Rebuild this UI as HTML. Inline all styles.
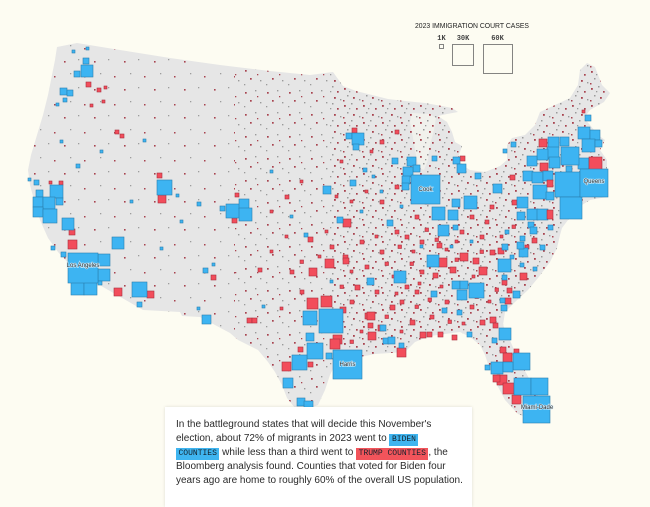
<!DOCTYPE html>
<html><head><meta charset="utf-8">
<style>
html,body{margin:0;padding:0;}
body{width:650px;height:495px;overflow:hidden;background:#fdfcf2;position:relative;font-family:"Liberation Sans",Arial,sans-serif;}
svg{position:absolute;left:0;top:0;}
.b{fill:#3db4f2;stroke:#2a7fae;stroke-width:.6}
.r{fill:#f24d5b;stroke:#a8303e;stroke-width:.6}
.lab{font-family:"Liberation Sans",sans-serif;font-size:6px;fill:#333;stroke:#dff1fb;stroke-width:1.4px;paint-order:stroke;stroke-opacity:.8}
#box{position:absolute;left:165px;top:407px;width:307px;height:100px;background:#fff;box-shadow:0 0 3px rgba(0,0,0,.13);}
#txt{position:absolute;left:176px;top:418px;font-size:10px;line-height:14px;color:#2a2a2a;white-space:nowrap;}
.hb,.hr{display:inline-block;font-family:"Liberation Mono",monospace;font-size:8px;line-height:12px;padding:0 2.5px;color:#14222c;}
.hb{background:#3fb5f0;}
.hr{background:#f2545b;}
</style></head><body>
<svg width="650" height="495" viewBox="0 0 650 495" xmlns="http://www.w3.org/2000/svg">
<defs>
<clipPath id="us"><path id="usp" d="M57,47 L77,43 L120,50 L170,58 L220,65 L270,71 L310,75 L333,72 L338,79 L343,86 L356,91 L372,95 L388,99 L405,101 L425,103 L442,106 L452,108 L458,112 L447,114 L438,116 L447,122 L452,132 L455,142 L462,146 L458,158 L462,165 L470,170 L485,172 L500,166 L507,160 L507,145 L512,138 L525,135 L535,125 L540,112 L555,105 L570,98 L578,85 L580,70 L587,63 L595,67 L602,85 L610,93 L604,102 L590,110 L584,118 L590,125 L598,135 L605,140 L600,150 L607,160 L607,197 L590,200 L582,205 L575,212 L568,220 L562,228 L560,235 L557,248 L550,262 L538,278 L528,290 L515,302 L505,312 L503,325 L512,345 L520,362 L530,380 L538,395 L535,410 L528,418 L518,414 L505,400 L497,385 L490,370 L485,355 L480,345 L470,337 L460,332 L445,334 L430,336 L415,342 L405,352 L390,353 L375,354 L360,357 L345,360 L335,365 L330,375 L325,390 L318,405 L305,410 L295,408 L287,398 L282,385 L275,372 L268,362 L258,350 L248,345 L238,340 L230,333 L215,325 L200,317 L182,316 L180,312 L143,310 L103,287 L98,284 L85,276 L70,265 L58,252 L48,238 L40,220 L34,200 L30,185 L28,170 L31,155 L37,135 L43,115 L48,95 L52,75 L55,60 Z"/></clipPath>
<pattern id="pw" width="30" height="28" patternUnits="userSpaceOnUse">
<rect x="4" y="5" width="1.6" height="1.6" fill="#a8434f"/><rect x="18" y="3" width="1.3" height="1.3" fill="#9d9d9d"/><rect x="10" y="17" width="1.3" height="1.3" fill="#9d9d9d"/><rect x="24" y="20" width="1.5" height="1.5" fill="#a8434f"/>
</pattern>
<pattern id="pp" width="22" height="22" patternUnits="userSpaceOnUse">
<rect x="3" y="4" width="1.7" height="1.7" fill="#a8434f"/><rect x="13" y="2" width="1.4" height="1.4" fill="#9a9a9a"/><rect x="8" y="12" width="1.7" height="1.7" fill="#a8434f"/><rect x="18" y="14" width="1.4" height="1.4" fill="#9a9a9a"/><rect x="2" y="18" width="1.3" height="1.3" fill="#9a9a9a"/><rect x="15" y="8" width="1.3" height="1.3" fill="#a8434f"/>
</pattern>
<pattern id="pe" width="19" height="17" patternUnits="userSpaceOnUse">
<rect x="2" y="3" width="1.8" height="1.8" fill="#a8434f"/><rect x="9" y="1" width="1.5" height="1.5" fill="#9a9a9a"/><rect x="14" y="6" width="1.7" height="1.7" fill="#a8434f"/><rect x="5" y="10" width="1.5" height="1.5" fill="#9a9a9a"/><rect x="11" y="12" width="1.8" height="1.8" fill="#a8434f"/><rect x="17" y="14" width="1.4" height="1.4" fill="#9a9a9a"/><rect x="1" y="15" width="1.5" height="1.5" fill="#a8434f"/><rect x="7" y="6" width="1.3" height="1.3" fill="#9a9a9a"/>
</pattern>
</defs>
<use href="#usp" fill="#e6e6e6"/>
<path d="M412,113 L430,114 L436,118 L434,130 L430,145 L428,160 L424,170 L419,168 L416,155 L413,138 L410,122 Z" fill="#f1f1ec"/>
<g clip-path="url(#us)">
<rect x="0" y="0" width="235" height="495" fill="url(#pw)"/>
<rect x="235" y="0" width="95" height="495" fill="url(#pp)"/>
<rect x="330" y="0" width="320" height="495" fill="url(#pe)"/>
</g>
<!-- legend -->
<text x="415" y="28" font-family="Liberation Sans,sans-serif" font-size="7.5" fill="#222" textLength="114" lengthAdjust="spacingAndGlyphs">2023 IMMIGRATION COURT CASES</text>
<g font-family="Liberation Mono,monospace" font-size="7" font-weight="bold" fill="#444" text-anchor="middle">
<text x="441.5" y="40">1K</text><text x="463" y="40">30K</text><text x="497.5" y="40">60K</text>
</g>
<g fill="none" stroke="#666" stroke-width="0.8">
<rect x="439.5" y="44.5" width="4" height="4"/><rect x="452.5" y="44.5" width="21" height="21"/><rect x="483.5" y="44.5" width="29" height="29"/>
</g>
<!-- small scattered -->
<g>
<rect class="b" x="380" y="190" width="3" height="3"/><rect class="b" x="400" y="205" width="3" height="3"/><rect class="b" x="360" y="210" width="3" height="3"/><rect class="b" x="420" y="245" width="3" height="3"/><rect class="b" x="450" y="245" width="3" height="3"/><rect class="b" x="470" y="240" width="3" height="3"/><rect class="b" x="330" y="280" width="3" height="3"/><rect class="b" x="290" y="215" width="3" height="3"/><rect class="b" x="270" y="170" width="3" height="3"/><rect class="b" x="100" y="150" width="3" height="3"/><rect class="b" x="60" y="140" width="3" height="3"/><rect class="b" x="130" y="200" width="3" height="3"/><rect class="b" x="180" y="220" width="3" height="3"/>
<rect class="b" x="56" y="103" width="3" height="3"/><rect class="b" x="72" y="50" width="3" height="3"/><rect class="b" x="86" y="47" width="3" height="3"/><rect class="b" x="76" y="164" width="4" height="4"/><rect class="b" x="143" y="139" width="3" height="3"/><rect class="b" x="176" y="194" width="3" height="3"/><rect class="b" x="28" y="178" width="3" height="3"/><rect class="b" x="197" y="307" width="3" height="3"/><rect class="b" x="160" y="247" width="3" height="3"/><rect class="b" x="212" y="263" width="3" height="3"/><rect class="b" x="262" y="305" width="3" height="3"/><rect class="b" x="304" y="233" width="4" height="4"/>
</g>
<!-- extra small reds -->
<g>
<rect class="r" x="385" y="262" width="3.5" height="3.5"/><rect class="r" x="392" y="275" width="3" height="3"/><rect class="r" x="410" y="262" width="3.5" height="3.5"/><rect class="r" x="418" y="282" width="3" height="3"/><rect class="r" x="428" y="298" width="3.5" height="3.5"/><rect class="r" x="440" y="285" width="3" height="3"/><rect class="r" x="448" y="320" width="3.5" height="3.5"/><rect class="r" x="462" y="322" width="3" height="3"/><rect class="r" x="475" y="295" width="3.5" height="3.5"/><rect class="r" x="488" y="300" width="3" height="3"/><rect class="r" x="495" y="288" width="3.5" height="3.5"/><rect class="r" x="472" y="275" width="3" height="3"/><rect class="r" x="455" y="258" width="3.5" height="3.5"/><rect class="r" x="445" y="248" width="3" height="3"/><rect class="r" x="425" y="228" width="3.5" height="3.5"/><rect class="r" x="412" y="250" width="3" height="3"/><rect class="r" x="398" y="245" width="3.5" height="3.5"/><rect class="r" x="375" y="235" width="3" height="3"/><rect class="r" x="385" y="315" width="3.5" height="3.5"/><rect class="r" x="400" y="330" width="3" height="3"/><rect class="r" x="415" y="305" width="3.5" height="3.5"/><rect class="r" x="360" y="330" width="3" height="3"/><rect class="r" x="350" y="340" width="3.5" height="3.5"/><rect class="r" x="395" y="292" width="3" height="3"/><rect class="r" x="480" y="250" width="3.5" height="3.5"/><rect class="r" x="500" y="235" width="3" height="3"/><rect class="r" x="512" y="225" width="3.5" height="3.5"/><rect class="r" x="455" y="240" width="3" height="3"/><rect class="r" x="435" y="238" width="3.5" height="3.5"/><rect class="r" x="350" y="270" width="3" height="3"/><rect class="r" x="340" y="285" width="3.5" height="3.5"/><rect class="r" x="318" y="255" width="3" height="3"/><rect class="r" x="300" y="260" width="3.5" height="3.5"/><rect class="r" x="285" y="235" width="3" height="3"/><rect class="r" x="325" y="230" width="3" height="3"/><rect class="r" x="335" y="195" width="3" height="3"/><rect class="r" x="350" y="200" width="3" height="3"/><rect class="r" x="365" y="190" width="3" height="3"/>
</g>
<!-- reds -->
<g>
<rect class="r" x="86" y="82" width="5" height="5"/><rect class="r" x="97" y="88" width="4" height="4"/><rect class="r" x="104" y="86" width="3" height="3"/><rect class="r" x="102" y="100" width="3" height="3"/><rect class="r" x="90" y="104" width="3" height="3"/><rect class="r" x="115" y="130" width="4" height="4"/><rect class="r" x="120" y="134" width="4" height="4"/><rect class="r" x="59" y="181" width="4" height="4"/><rect class="r" x="49" y="181" width="3" height="3"/><rect class="r" x="69" y="229" width="6" height="6"/><rect class="r" x="68" y="240" width="9" height="9"/><rect class="r" x="114" y="288" width="8" height="8"/><rect class="r" x="147" y="291" width="7" height="7"/><rect class="r" x="211" y="275" width="5" height="5"/><rect class="r" x="247" y="318" width="5" height="5"/><rect class="r" x="252" y="318" width="5" height="5"/><rect class="r" x="158" y="195" width="8" height="8"/><rect class="r" x="157" y="173" width="5" height="5"/><rect class="r" x="232" y="218" width="5" height="5"/><rect class="r" x="235" y="193" width="4" height="4"/>
<rect class="r" x="307" y="298" width="11" height="11"/><rect class="r" x="321" y="296" width="11" height="11"/><rect class="r" x="282" y="362" width="9" height="9"/><rect class="r" x="333" y="335" width="9" height="9"/><rect class="r" x="330" y="339" width="10" height="10"/><rect class="r" x="308" y="237" width="5" height="5"/><rect class="r" x="309" y="268" width="8" height="8"/><rect class="r" x="325" y="259" width="9" height="9"/><rect class="r" x="343" y="219" width="8" height="8"/><rect class="r" x="343" y="255" width="5" height="5"/><rect class="r" x="365" y="313" width="6" height="6"/><rect class="r" x="367" y="312" width="8" height="8"/><rect class="r" x="368" y="323" width="5" height="5"/><rect class="r" x="378" y="325" width="6" height="6"/><rect class="r" x="397" y="348" width="9" height="9"/><rect class="r" x="420" y="332" width="6" height="6"/><rect class="r" x="427" y="332" width="5" height="5"/><rect class="r" x="438" y="332" width="5" height="5"/><rect class="r" x="452" y="335" width="5" height="5"/><rect class="r" x="340" y="307" width="6" height="6"/><rect class="r" x="258" y="268" width="4" height="4"/><rect class="r" x="280" y="307" width="3" height="3"/><rect class="r" x="298" y="347" width="5" height="5"/><rect class="r" x="308" y="362" width="5" height="5"/><rect class="r" x="368" y="332" width="8" height="8"/>
<rect class="r" x="438" y="258" width="9" height="9"/><rect class="r" x="460" y="253" width="8" height="8"/><rect class="r" x="479" y="267" width="8" height="8"/><rect class="r" x="437" y="243" width="5" height="5"/><rect class="r" x="473" y="258" width="6" height="6"/><rect class="r" x="490" y="250" width="5" height="5"/><rect class="r" x="498" y="248" width="6" height="6"/><rect class="r" x="450" y="267" width="6" height="6"/><rect class="r" x="433" y="273" width="5" height="5"/><rect class="r" x="502" y="280" width="5" height="5"/><rect class="r" x="507" y="288" width="5" height="5"/><rect class="r" x="505" y="298" width="6" height="6"/><rect class="r" x="520" y="273" width="7" height="7"/><rect class="r" x="490" y="317" width="6" height="6"/><rect class="r" x="493" y="323" width="5" height="5"/><rect class="r" x="500" y="347" width="6" height="6"/><rect class="r" x="514" y="349" width="5" height="5"/>
<rect class="r" x="352" y="128" width="5" height="5"/><rect class="r" x="343" y="258" width="6" height="6"/><rect class="r" x="375" y="290" width="4" height="4"/><rect class="r" x="400" y="300" width="4" height="4"/><rect class="r" x="415" y="290" width="4" height="4"/><rect class="r" x="360" y="240" width="4" height="4"/><rect class="r" x="380" y="250" width="4" height="4"/><rect class="r" x="395" y="230" width="4" height="4"/><rect class="r" x="420" y="240" width="4" height="4"/><rect class="r" x="445" y="300" width="4" height="4"/><rect class="r" x="470" y="305" width="4" height="4"/><rect class="r" x="480" y="320" width="5" height="5"/><rect class="r" x="410" y="320" width="5" height="5"/><rect class="r" x="430" y="315" width="4" height="4"/><rect class="r" x="350" y="300" width="4" height="4"/><rect class="r" x="355" y="285" width="5" height="5"/><rect class="r" x="300" y="290" width="4" height="4"/><rect class="r" x="290" y="270" width="4" height="4"/><rect class="r" x="270" y="250" width="3" height="3"/><rect class="r" x="390" y="305" width="5" height="5"/><rect class="r" x="405" y="285" width="4" height="4"/><rect class="r" x="420" y="270" width="4" height="4"/><rect class="r" x="365" y="265" width="4" height="4"/><rect class="r" x="330" y="245" width="4" height="4"/><rect class="r" x="285" y="195" width="4" height="4"/><rect class="r" x="270" y="210" width="3" height="3"/><rect class="r" x="380" y="200" width="4" height="4"/><rect class="r" x="395" y="185" width="4" height="4"/><rect class="r" x="380" y="140" width="4" height="4"/><rect class="r" x="395" y="130" width="4" height="4"/><rect class="r" x="370" y="150" width="3" height="3"/><rect class="r" x="340" y="160" width="3" height="3"/><rect class="r" x="300" y="180" width="3" height="3"/><rect class="r" x="510" y="175" width="5" height="5"/><rect class="r" x="512" y="200" width="5" height="5"/><rect class="r" x="532" y="238" width="5" height="5"/><rect class="r" x="525" y="245" width="4" height="4"/><rect class="r" x="480" y="235" width="4" height="4"/><rect class="r" x="460" y="230" width="4" height="4"/><rect class="r" x="470" y="215" width="4" height="4"/><rect class="r" x="490" y="205" width="4" height="4"/><rect class="r" x="485" y="220" width="4" height="4"/><rect class="r" x="415" y="215" width="4" height="4"/><rect class="r" x="405" y="235" width="4" height="4"/><rect class="r" x="425" y="200" width="4" height="4"/><rect class="r" x="460" y="156" width="5" height="5"/><rect class="r" x="582" y="110" width="3" height="3"/>
</g>
<!-- blues -->
<g>
<rect class="b" x="81" y="65" width="12" height="12"/><rect class="b" x="83" y="58" width="6" height="6"/><rect class="b" x="74" y="71" width="6" height="6"/><rect class="b" x="60" y="88" width="7" height="7"/><rect class="b" x="67" y="90" width="6" height="6"/><rect class="b" x="63" y="98" width="4" height="4"/>
<rect class="b" x="157" y="180" width="15" height="15"/><rect class="b" x="226" y="204" width="14" height="14"/><rect class="b" x="239" y="199" width="10" height="10"/><rect class="b" x="239" y="208" width="13" height="13"/><rect class="b" x="220" y="206" width="5" height="5"/><rect class="b" x="197" y="202" width="4" height="4"/>
<rect class="b" x="34" y="180" width="5" height="5"/><rect class="b" x="36" y="190" width="7" height="7"/><rect class="b" x="33" y="197" width="10" height="10"/><rect class="b" x="50" y="185" width="13" height="13"/><rect class="b" x="43" y="197" width="12" height="12"/><rect class="b" x="56" y="198" width="7" height="7"/><rect class="b" x="33" y="207" width="10" height="10"/><rect class="b" x="43" y="209" width="14" height="14"/><rect class="b" x="62" y="218" width="12" height="12"/>
<rect class="b" x="112" y="237" width="12" height="12"/><rect class="b" x="51" y="246" width="4" height="4"/><rect class="b" x="61" y="252" width="5" height="5"/>
<rect class="b" x="98" y="254" width="12" height="12"/><rect class="b" x="98" y="269" width="12" height="12"/><rect class="b" x="71" y="282" width="13" height="13"/><rect class="b" x="84" y="282" width="13" height="13"/><rect class="b" x="98" y="281" width="4" height="4"/><rect class="b" x="68" y="253" width="30" height="30"/>
<rect class="b" x="132" y="282" width="15" height="15"/><rect class="b" x="137" y="302" width="5" height="5"/><rect class="b" x="203" y="268" width="5" height="5"/><rect class="b" x="202" y="315" width="9" height="9"/>
<rect class="b" x="337" y="217" width="6" height="6"/><rect class="b" x="367" y="278" width="7" height="7"/><rect class="b" x="380" y="325" width="6" height="6"/><rect class="b" x="383" y="338" width="6" height="6"/><rect class="b" x="399" y="343" width="5" height="5"/><rect class="b" x="388" y="337" width="7" height="7"/>
<rect class="b" x="303" y="311" width="14" height="14"/><rect class="b" x="319" y="309" width="24" height="24"/><rect class="b" x="306" y="333" width="8" height="8"/><rect class="b" x="307" y="343" width="16" height="16"/><rect class="b" x="292" y="355" width="15" height="15"/><rect class="b" x="326" y="353" width="6" height="6"/><rect class="b" x="283" y="378" width="10" height="10"/><rect class="b" x="297" y="398" width="8" height="8"/><rect class="b" x="304" y="401" width="9" height="9"/><rect class="b" x="333" y="350" width="29" height="29"/>
<rect class="b" x="427" y="255" width="12" height="12"/><rect class="b" x="394" y="271" width="12" height="12"/><rect class="b" x="452" y="281" width="8" height="8"/><rect class="b" x="460" y="281" width="8" height="8"/><rect class="b" x="457" y="290" width="10" height="10"/><rect class="b" x="469" y="283" width="15" height="15"/><rect class="b" x="431" y="291" width="6" height="6"/>
<rect class="b" x="498" y="259" width="13" height="13"/><rect class="b" x="519" y="248" width="9" height="9"/><rect class="b" x="517" y="242" width="7" height="7"/><rect class="b" x="502" y="244" width="6" height="6"/><rect class="b" x="513" y="291" width="7" height="7"/><rect class="b" x="500" y="298" width="5" height="5"/><rect class="b" x="501" y="305" width="6" height="6"/><rect class="b" x="442" y="308" width="5" height="5"/><rect class="b" x="457" y="310" width="5" height="5"/><rect class="b" x="467" y="332" width="5" height="5"/><rect class="b" x="492" y="338" width="5" height="5"/><rect class="b" x="520" y="263" width="4" height="4"/><rect class="b" x="533" y="267" width="4" height="4"/><rect class="b" x="502" y="275" width="5" height="5"/>
<rect class="b" x="499" y="328" width="12" height="12"/>
<rect class="r" x="503" y="353" width="9" height="9"/><rect class="r" x="497" y="375" width="10" height="10"/><rect class="r" x="493" y="375" width="7" height="7"/><rect class="r" x="503" y="383" width="11" height="11"/><rect class="r" x="512" y="395" width="9" height="9"/>
<rect class="b" x="513" y="353" width="17" height="17"/><rect class="b" x="485" y="365" width="5" height="5"/><rect class="b" x="491" y="362" width="12" height="12"/><rect class="b" x="503" y="362" width="10" height="10"/><rect class="b" x="514" y="378" width="17" height="17"/><rect class="b" x="531" y="378" width="17" height="17"/><rect class="b" x="523" y="396" width="27" height="27"/>
<rect class="b" x="346" y="133" width="6" height="6"/><rect class="b" x="352" y="133" width="12" height="12"/><rect class="b" x="353" y="144" width="6" height="6"/><rect class="b" x="323" y="186" width="8" height="8"/><rect class="b" x="350" y="180" width="6" height="6"/><rect class="b" x="363" y="168" width="4" height="4"/><rect class="b" x="372" y="175" width="3" height="3"/>
<rect class="b" x="392" y="158" width="6" height="6"/><rect class="b" x="407" y="157" width="9" height="9"/><rect class="b" x="413" y="165" width="7" height="7"/><rect class="b" x="403" y="167" width="10" height="10"/><rect class="b" x="402" y="176" width="8" height="8"/><rect class="b" x="402" y="183" width="7" height="7"/><rect class="b" x="411" y="175" width="29" height="29"/>
<rect class="b" x="432" y="156" width="5" height="5"/><rect class="b" x="453" y="157" width="7" height="7"/><rect class="b" x="457" y="164" width="9" height="9"/><rect class="b" x="475" y="173" width="6" height="6"/><rect class="b" x="464" y="196" width="13" height="13"/><rect class="b" x="432" y="207" width="13" height="13"/><rect class="b" x="452" y="199" width="8" height="8"/><rect class="b" x="448" y="210" width="10" height="10"/><rect class="b" x="438" y="225" width="11" height="11"/><rect class="b" x="453" y="225" width="5" height="5"/><rect class="b" x="387" y="220" width="6" height="6"/><rect class="b" x="493" y="184" width="9" height="9"/><rect class="b" x="503" y="149" width="4" height="4"/><rect class="b" x="511" y="142" width="5" height="5"/>
<rect class="b" x="520" y="236" width="5" height="5"/><rect class="b" x="540" y="245" width="5" height="5"/><rect class="b" x="548" y="225" width="5" height="5"/><rect class="b" x="505" y="230" width="4" height="4"/><rect class="b" x="510" y="255" width="4" height="4"/>
<rect class="b" x="585" y="115" width="6" height="6"/><rect class="b" x="578" y="127" width="12" height="12"/><rect class="b" x="590" y="130" width="10" height="10"/><rect class="b" x="582" y="139" width="13" height="13"/><rect class="b" x="595" y="140" width="7" height="7"/><rect class="b" x="578" y="158" width="11" height="11"/><rect class="b" x="566" y="166" width="6" height="6"/>
<rect class="b" x="548" y="137" width="11" height="11"/><rect class="b" x="560" y="137" width="9" height="9"/><rect class="b" x="547" y="147" width="12" height="12"/><rect class="b" x="537" y="149" width="11" height="11"/><rect class="b" x="549" y="157" width="11" height="11"/><rect class="b" x="527" y="156" width="10" height="10"/>
<rect class="r" x="539" y="139" width="8" height="8"/><rect class="r" x="540" y="163" width="8" height="8"/>
<rect class="b" x="523" y="171" width="10" height="10"/><rect class="b" x="532" y="172" width="11" height="11"/><rect class="b" x="543" y="171" width="10" height="10"/><rect class="b" x="533" y="185" width="14" height="14"/><rect class="b" x="546" y="192" width="8" height="8"/><rect class="b" x="517" y="197" width="11" height="11"/><rect class="b" x="527" y="209" width="11" height="11"/><rect class="b" x="537" y="209" width="11" height="11"/><rect class="b" x="517" y="212" width="8" height="8"/><rect class="b" x="528" y="222" width="6" height="6"/><rect class="b" x="530" y="227" width="7" height="7"/>
<rect class="r" x="547" y="180" width="6" height="7"/><rect class="r" x="547" y="210" width="6" height="9"/>
<rect class="b" x="561" y="147" width="18" height="18"/><rect class="b" x="555" y="172" width="25" height="25"/><rect class="b" x="560" y="197" width="22" height="22"/><rect class="r" x="589" y="157" width="13" height="13"/><rect class="b" x="580" y="169" width="28" height="28"/>
</g>
<!-- labels -->
<text class="lab" x="83" y="267" text-anchor="middle">Los Angeles</text>
<text class="lab" x="425.5" y="191" text-anchor="middle">Cook</text>
<text class="lab" x="594" y="183" text-anchor="middle">Queens</text>
<text class="lab" x="347.5" y="366" text-anchor="middle">Harris</text>
<text class="lab" x="537" y="409" text-anchor="middle">Miami-Dade</text>
</svg>
<div id="box"></div>
<div id="txt">In the battleground states that will decide this November's<br>election, about 72% of migrants in 2023 went to <span class="hb">BIDEN</span><br><span class="hb">COUNTIES</span> while less than a third went to <span class="hr">TRUMP COUNTIES</span>, the<br>Bloomberg analysis found. Counties that voted for Biden four<br>years ago are home to roughly 60% of the overall US population.</div>
</body></html>
